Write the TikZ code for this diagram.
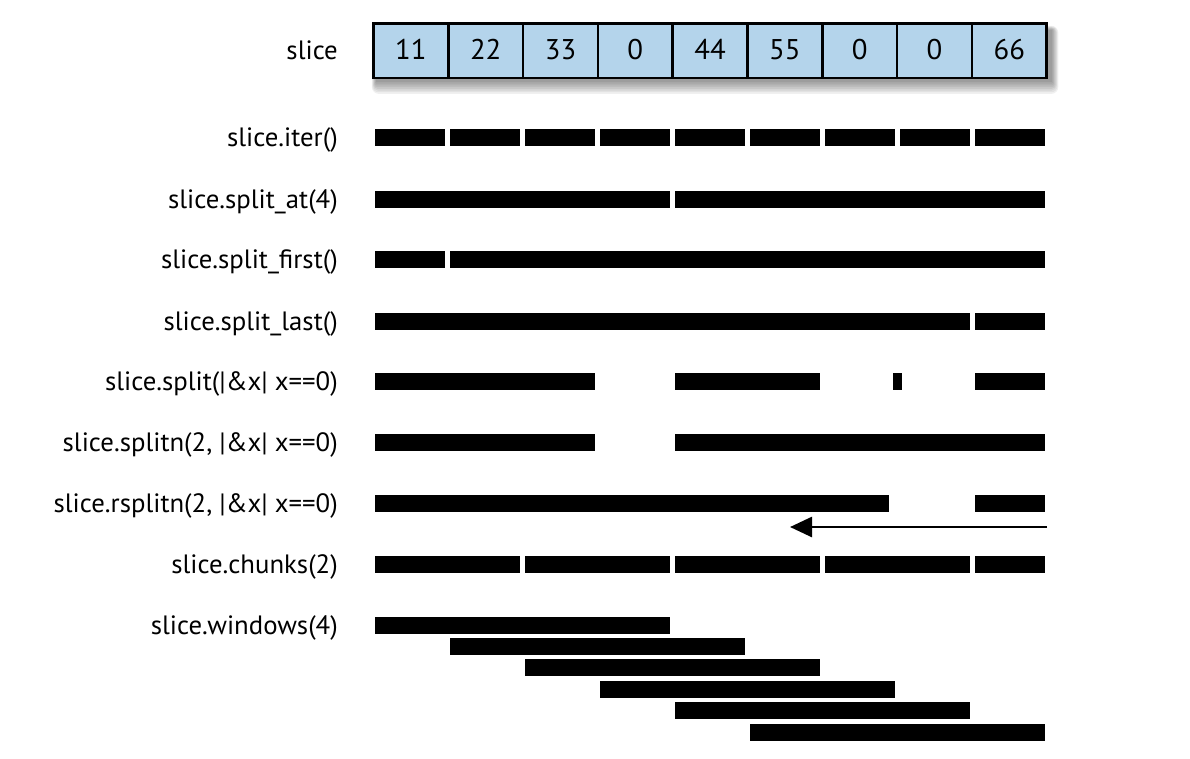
\documentclass[tikz,border=0pt]{standalone}
\usepackage{fontspec}
\setmainfont{PT Sans}[FakeStretch=1.01]
\usetikzlibrary{arrows.meta}
\definecolor{cellblue}{RGB}{180,212,235}
\newcommand\seg[3]{\fill[barfill] ({#2},{#1-8.5}) rectangle ({#3},{#1+8.5});}
\newcommand\cells[3]{\seg{#1}{375+75*#2}{370+75*(#3+1)}}
\begin{document}
\begin{tikzpicture}[x=1pt,y=-1pt,
  lbl/.style={anchor=base east, inner sep=0pt, font=\fontsize{26.5}{30}\selectfont},
  cell/.style={draw, line width=2.6pt, fill=cellblue, minimum width=74.8pt, minimum height=54.5pt, inner sep=0pt},
  num/.style={anchor=base, inner sep=0pt, font=\fontsize{28.5}{32}\selectfont},
  barfill/.style={fill=black},
  arr/.style={line width=2.6pt, -{Triangle[length=22pt,width=20pt]}}]
\useasboundingbox (0,0) rectangle (1190,758);
% shadow
\foreach \k in {0,...,7}
  \fill[black, opacity=0.06, rounded corners=\k pt] ({376-\k*0.6},{30-\k*0.6}) rectangle ({1052+\k*0.9},{82+\k*1.7});
% cells
\foreach \v [count=\i from 0] in {11,22,33,0,44,55,0,0,66} {
  \node[cell] (c\i) at ({410.9+74.8*\i}, 50.75) {};
  \node[num] (n\i) at ({410.9+74.8*\i}, 59) {\v};
}
% labels
\node[lbl] (l0) at (338,59) {slice};
\node[lbl] (l1) at (338,146) {slice.iter()};
\node[lbl] (l2) at (338,208) {slice.split\_at(4)};
\node[lbl] (l3) at (338,268) {slice.split\_first()};
\node[lbl] (l4) at (338,330) {slice.split\_last()};
\node[lbl] (l5) at (338,390) {slice.split(|\&x| x==0)};
\node[lbl] (l6) at (338,451) {slice.splitn(2, |\&x| x==0)};
\node[lbl] (l7) at (338,512) {slice.rsplitn(2, |\&x| x==0)};
\node[lbl] (l8) at (338,573) {slice.chunks(2)};
\node[lbl] (l9) at (338,634) {slice.windows(4)};
% iter
\foreach \i in {0,...,8} {\cells{137}{\i}{\i}}
% split_at
\cells{199}{0}{3} \cells{199}{4}{8}
% split_first
\cells{259}{0}{0} \cells{259}{1}{8}
% split_last
\cells{321}{0}{7} \cells{321}{8}{8}
% split
\cells{381}{0}{2} \cells{381}{4}{5} \seg{381}{893}{902} \cells{381}{8}{8}
% splitn
\cells{442}{0}{2} \cells{442}{4}{8}
% rsplitn
\seg{503}{375}{889} \cells{503}{8}{8}
\coordinate (a1) at (1047,527);
\coordinate (a2) at (790,527);
\draw[arr] (a1) -- (a2);
% chunks
\cells{564}{0}{1} \cells{564}{2}{3} \cells{564}{4}{5} \cells{564}{6}{7} \cells{564}{8}{8}
% windows
\cells{625}{0}{3} \cells{646}{1}{4} \cells{667}{2}{5} \cells{689}{3}{6} \cells{710}{4}{7} \cells{732}{5}{8}
\end{tikzpicture}
\end{document}
